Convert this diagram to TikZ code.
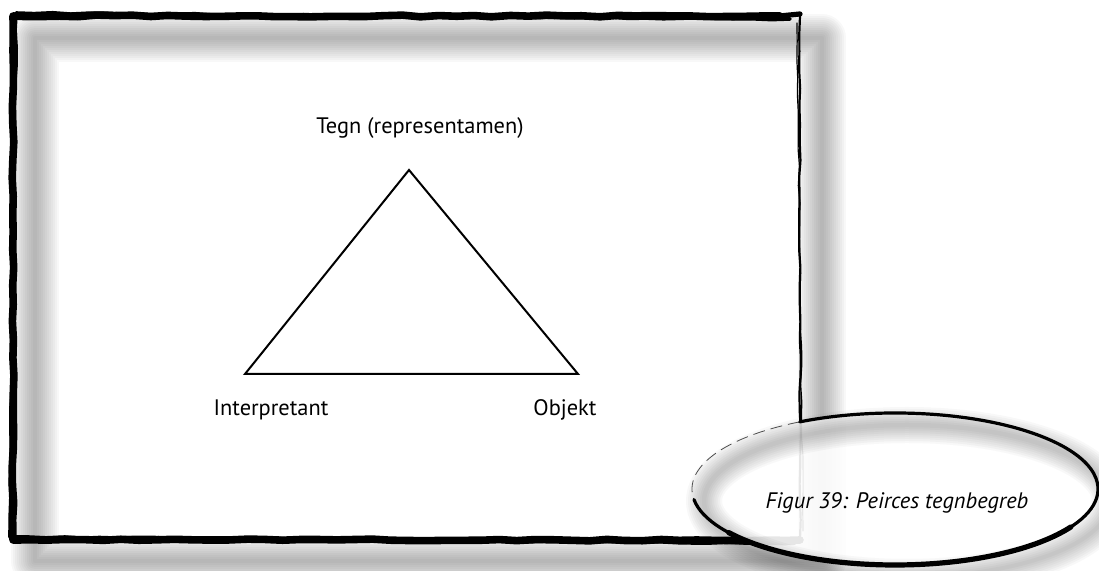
\documentclass[tikz,border=0pt]{standalone}
\usepackage{fontspec}
\setmainfont{PT Sans}
\usetikzlibrary{positioning,decorations.pathmorphing}
\tikzset{
  rough/.style={decorate,decoration={random steps,segment length=9pt,amplitude=0.45pt}},
  frameline/.style={rough,draw=black,line width=3.8pt,line join=round,line cap=round},
  frameside/.style={rough,draw=black,line width=1.1pt,line cap=round},
  haze/.style={draw=black,line join=round,opacity=0.028},
  lbl/.style={font=\fontsize{11.2}{13}\selectfont,inner sep=1pt},
  capt/.style={font=\fontsize{11.2}{13}\selectfont\itshape,inner sep=1pt},
  side/.style={draw=black,line width=1pt,line join=miter},
}

\begin{document}
\begin{tikzpicture}[x=0.5pt,y=0.5pt]
  \pgfmathsetseed{39}
  \useasboundingbox (0,0) rectangle (1099,571);

  % ------------------------------------------------------------ sketched frame
  \foreach \w in {4,8,...,48}
    \draw[haze,line width=\w*0.5pt] (35,533) rectangle (822,10);
  \draw[frameline] (780,555) -- (13,555) -- (13,31) -- (800,31);
  \draw[frameline,line width=1.8pt] (790,552) -- (16,558) -- (10,34) -- (795,28);
  \draw[frameline,line width=2.6pt] (800,557) -- (760,555);
  \draw[frameside] (800,555) -- (800,31);
  \draw[frameside,line width=0.6pt] (797,548) -- (803,40);

  % ------------------------------------------------------------------ triangle
  \coordinate (tip) at (409,401);
  \coordinate (lft) at (245,197);
  \coordinate (rgt) at (578,197);
  \draw[side] (tip) -- (lft) -- (rgt) -- cycle;

  \node[lbl] (tegn)   at (420,443) {Tegn (representamen)};
  \node[lbl] (interp) at (271,161) {Interpretant};
  \node[lbl] (objekt) at (565,161) {Objekt};

  % ------------------------------------------------------------ caption ellipse
  \coordinate (ecen) at (895,82);
  \fill[white,opacity=0.9] (ecen) ellipse [x radius=203,y radius=76];
  \foreach \w in {4,8,...,36}
    \draw[haze,line width=\w*0.5pt] ([shift={(12,-12)}]ecen) ellipse [x radius=203,y radius=76];
  \draw[black!70,line width=0.4pt,dash pattern=on 6pt off 3pt]
    ([shift={(118:203 and 76)}]ecen) arc[start angle=118,end angle=188,x radius=203,y radius=76];
  \draw[black,line width=1.6pt,line cap=round]
    ([shift={(188:203 and 76)}]ecen) arc[start angle=188,end angle=478,x radius=203,y radius=76];
  \draw[black,line width=2.6pt,line cap=round]
    ([shift={(215:203 and 76)}]ecen) arc[start angle=215,end angle=330,x radius=203,y radius=76];

  \node[capt] (caption) at (897,68) {Figur 39: Peirces tegnbegreb};
\end{tikzpicture}
\end{document}
